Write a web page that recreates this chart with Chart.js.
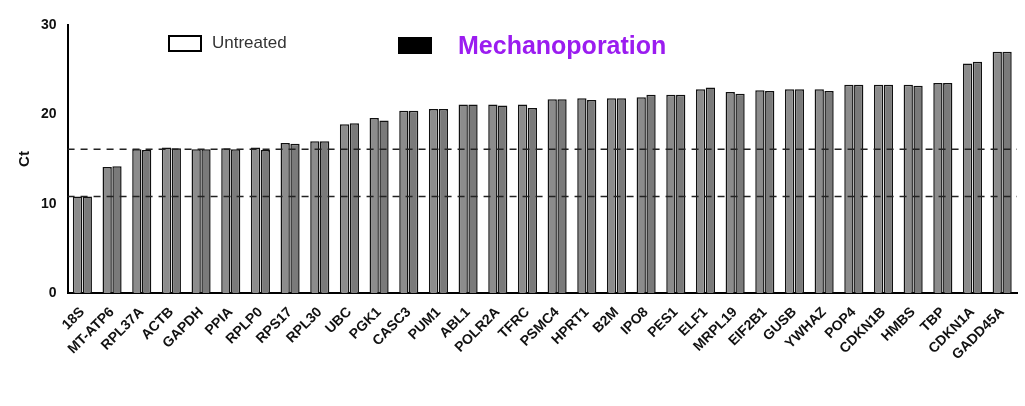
<!DOCTYPE html>
<html>
<head>
<meta charset="utf-8">
<script src="https://cdn.jsdelivr.net/npm/chart.js@4"></script>
<style>
  body { margin: 0; background: #fff; }
  #wrap { position: relative; width: 1025px; height: 406px; }
  .leg { position: absolute; font-family: Arial, "Liberation Sans", sans-serif; display: flex; align-items: center; }
  .box { display: inline-block; width: 30px; height: 13px; border: 2px solid #000; margin-right: 10px; }
</style>
</head>
<body>
<div id="wrap">
  <canvas id="chart" width="1025" height="406"></canvas>
  <div class="leg" style="left:168px; top:33px; font-size:17px; color:#333;"><span class="box" style="background:#fff"></span>Untreated</div>
  <div class="leg" style="left:398px; top:31px; font-size:25px; font-weight:bold; color:#9b1cf0;"><span class="box" style="background:#000; margin-right:26px"></span>Mechanoporation</div>
</div>
<script>
const genes = ['18S','MT-ATP6','RPL37A','ACTB','GAPDH','PPIA','RPLP0','RPS17','RPL30','UBC','PGK1','CASC3','PUM1','ABL1','POLR2A','TFRC','PSMC4','HPRT1','B2M','IPO8','PES1','ELF1','MRPL19','EIF2B1','GUSB','YWHAZ','POP4','CDKN1B','HMBS','TBP','CDKN1A','GADD45A'];
const untreated = [10.8,14.1,16.1,16.3,16.1,16.2,16.3,16.8,17.0,18.9,19.6,20.4,20.6,21.1,21.1,21.1,21.7,21.8,21.8,21.9,22.2,22.8,22.5,22.7,22.8,22.8,23.3,23.3,23.3,23.5,25.7,27.0];
const mechano = [10.8,14.2,16.0,16.2,16.1,16.1,16.0,16.7,17.0,19.0,19.3,20.4,20.6,21.1,21.0,20.7,21.7,21.6,21.8,22.2,22.2,23.0,22.3,22.6,22.8,22.6,23.3,23.3,23.2,23.5,25.9,27.0];
const refLines = [16.1, 10.8];
const yTicks = [0, 10, 20, 30];

const dashPlugin = {
  id: 'dash',
  afterDatasetsDraw(chart) {
    const {ctx, chartArea, scales} = chart;
    ctx.save();
    ctx.setLineDash([7, 6]);
    ctx.strokeStyle = '#222';
    ctx.lineWidth = 1.5;
    refLines.forEach(v => {
      const y = scales.y.getPixelForValue(v);
      ctx.beginPath();
      ctx.moveTo(chartArea.left, y);
      ctx.lineTo(chartArea.right, y);
      ctx.stroke();
    });
    ctx.restore();
  }
};

new Chart(document.getElementById('chart'), {
  type: 'bar',
  data: {
    labels: genes,
    datasets: [
      { label: 'Untreated', data: untreated, backgroundColor: '#8c8c8c', borderColor: '#111', borderWidth: 1.5 },
      { label: 'Mechanoporation', data: mechano, backgroundColor: '#7a7a7a', borderColor: '#111', borderWidth: 1.5 }
    ]
  },
  options: {
    responsive: false,
    animation: false,
    layout: { padding: { top: 25, right: 8, left: 12, bottom: 0 } },
    categoryPercentage: 0.66,
    barPercentage: 0.95,
    plugins: { legend: { display: false }, tooltip: { enabled: false } },
    scales: {
      x: {
        grid: { display: false },
        border: { color: '#000', width: 2 },
        afterFit: s => { s.height = 113; },
        ticks: { color: '#111', maxRotation: 45, minRotation: 45, autoSkip: false, font: { family: 'Arial, Liberation Sans', size: 14, weight: 'bold' } }
      },
      y: {
        min: 0, max: 30,
        afterBuildTicks: s => { s.ticks = yTicks.map(v => ({ value: v })); },
        grid: { display: false, drawTicks: true },
        border: { color: '#000', width: 2 },
        ticks: { color: '#111', font: { family: 'Arial, Liberation Sans', size: 14, weight: 'bold' } },
        title: { display: true, text: 'Ct', color: '#111', font: { family: 'Arial, Liberation Sans', size: 15, weight: 'bold' } }
      }
    }
  },
  plugins: [dashPlugin]
});
</script>
</body>
</html>
